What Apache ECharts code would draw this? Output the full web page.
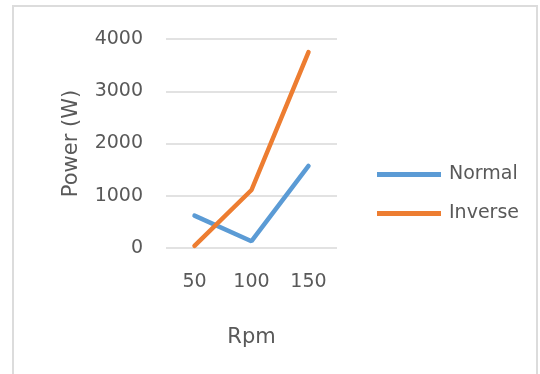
<!DOCTYPE html>
<html>
<head>
<meta charset="utf-8">
<script src="https://cdn.jsdelivr.net/npm/echarts@6/dist/echarts.min.js"></script>
<style>
html,body{margin:0;padding:0;background:#fff;}
#chart{width:540px;height:374px;}
</style>
</head>
<body>
<div id="chart"></div>
<script>
var categories = ['50', '100', '150'];
var normalValues = [620, 130, 1570];
var inverseValues = [40, 1110, 3750];
var yTicks = [0, 1000, 2000, 3000, 4000];

var chart = echarts.init(document.getElementById('chart'), null, {renderer: 'canvas'});
var font = 'DejaVu Sans';
var txt = '#595959';
chart.setOption({
  animation: false,
  backgroundColor: '#ffffff',
  graphic: [{
    type: 'rect',
    shape: {x: 13, y: 6, width: 524, height: 420},
    style: {fill: 'none', stroke: '#dcdcdc', lineWidth: 2},
    silent: true
  }],
  grid: {left: 166, right: 203, top: 39, bottom: 126},
  legend: {
    orient: 'vertical',
    left: 372,
    top: 160,
    icon: 'rect',
    itemWidth: 64,
    itemHeight: 5,
    itemGap: 20,
    textStyle: {fontFamily: font, fontSize: 19, color: txt, padding: [0, 0, 0, 3]},
    data: ['Normal', 'Inverse']
  },
  xAxis: {
    type: 'category',
    data: categories,
    boundaryGap: true,
    name: 'Rpm',
    nameLocation: 'middle',
    nameGap: 79,
    nameTextStyle: {fontFamily: font, fontSize: 21, color: txt},
    axisLine: {show: false},
    axisTick: {show: false},
    axisLabel: {fontFamily: font, fontSize: 19, color: txt, margin: 25}
  },
  yAxis: {
    type: 'value',
    min: yTicks[0],
    max: yTicks[yTicks.length - 1],
    interval: yTicks[1] - yTicks[0],
    name: 'Power (W)',
    nameLocation: 'middle',
    nameGap: 84,
    nameTextStyle: {fontFamily: font, fontSize: 21, color: txt},
    axisLine: {show: false},
    axisTick: {show: false},
    axisLabel: {fontFamily: font, fontSize: 19, color: txt, margin: 23,
      formatter: function (v) { return String(v); }},
    splitLine: {lineStyle: {color: '#d9d9d9', width: 1.5}}
  },
  series: [{
    name: 'Normal',
    type: 'line',
    data: normalValues,
    symbol: 'none',
    color: '#5B9BD5',
    lineStyle: {width: 4.5, color: '#5B9BD5', cap: 'round'}
  }, {
    name: 'Inverse',
    type: 'line',
    data: inverseValues,
    symbol: 'none',
    color: '#ED7D31',
    lineStyle: {width: 4.5, color: '#ED7D31', cap: 'round'}
  }]
});
</script>
</body>
</html>
